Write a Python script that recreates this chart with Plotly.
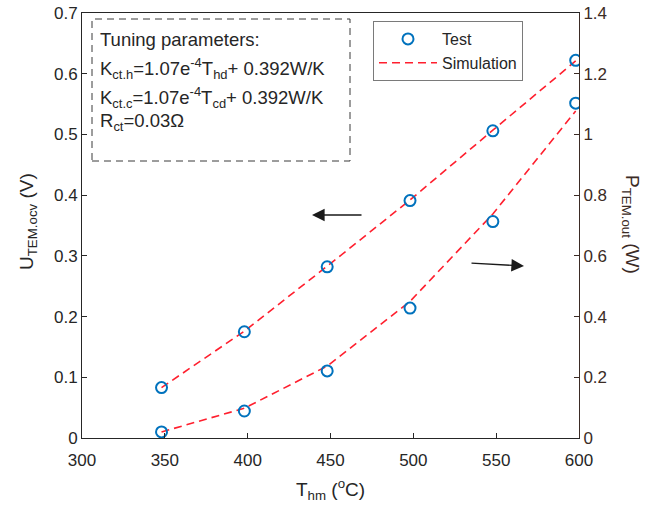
import plotly.graph_objects as go

# Hot-side mean temperature (°C)
temps = [348, 398, 448, 498, 548, 598]

# Open-circuit voltage (V): measured and simulated
u_test = [0.083, 0.175, 0.282, 0.391, 0.506, 0.622]
u_sim = [0.083, 0.176, 0.283, 0.392, 0.507, 0.621]

# Output power (W): measured and simulated
p_test = [0.020, 0.089, 0.221, 0.428, 0.713, 1.103]
p_sim = [0.020, 0.098, 0.237, 0.450, 0.738, 1.077]

x_ticks = [300, 350, 400, 450, 500, 550, 600]
u_ticks = [0, 0.1, 0.2, 0.3, 0.4, 0.5, 0.6, 0.7]
u_tick_text = ["0", "0.1", "0.2", "0.3", "0.4", "0.5", "0.6", "0.7"]
p_ticks = [0, 0.2, 0.4, 0.6, 0.8, 1.0, 1.2, 1.4]
p_tick_text = ["0", "0.2", "0.4", "0.6", "0.8", "1", "1.2", "1.4"]

BLUE = "#0072BD"
RED = "#FF1F2E"
FONT = "Liberation Sans, Arial, sans-serif"
RIGHT_COL = "#3b2b25"

W, H = 662, 505
L, R, T, B = 82, 83, 13, 67
PW, PH = W - L - R, H - T - B


def px(xp):
    return (xp - L) / PW


def py(yp):
    return (T + PH - yp) / PH


fig = go.Figure()

sim_line = dict(color=RED, width=1.6, dash="8px,5px")
test_marker = dict(symbol="circle-open", size=11, color=BLUE, line=dict(width=2, color=BLUE))

fig.add_trace(go.Scatter(x=temps, y=u_sim, mode="lines", line=sim_line,
                         name="Simulation", showlegend=False))
fig.add_trace(go.Scatter(x=temps, y=p_sim, mode="lines", line=sim_line,
                         name="Simulation", yaxis="y2", showlegend=False))
fig.add_trace(go.Scatter(x=temps, y=u_test, mode="markers", marker=test_marker,
                         name="Test", showlegend=True))
fig.add_trace(go.Scatter(x=temps, y=p_test, mode="markers", marker=test_marker,
                         name="Test", yaxis="y2", showlegend=False))
# legend entry for the simulation curves
fig.add_trace(go.Scatter(x=[None], y=[None], mode="lines", line=sim_line,
                         name="Simulation", showlegend=True))

axis_common = dict(showgrid=False, zeroline=False, showline=True, linewidth=1,
                   ticks="inside", ticklen=5, tickwidth=1, automargin=False,
                   tickfont=dict(family=FONT, size=17))

fig.update_layout(
    width=W, height=H,
    margin=dict(l=L, r=R, t=T, b=B, autoexpand=False),
    paper_bgcolor="white", plot_bgcolor="white",
    font=dict(family=FONT, size=17, color="#262626"),
    xaxis=dict(range=[300, 600], tickvals=x_ticks, linecolor="#262626",
               tickcolor="#262626", mirror=True, ticklabelstandoff=7, **axis_common),
    yaxis=dict(range=[0, 0.7], tickvals=u_ticks, ticktext=u_tick_text,
               linecolor="#262626", tickcolor="#262626", **axis_common),
    yaxis2=dict(range=[0, 1.4], tickvals=p_ticks, ticktext=p_tick_text,
                overlaying="y", side="right", linecolor=RIGHT_COL,
                tickcolor=RIGHT_COL, **{**axis_common,
                                         "tickfont": dict(family=FONT, size=17, color=RIGHT_COL)}),
    legend=dict(x=px(373), y=py(21), xanchor="left", yanchor="top",
                bgcolor="white", bordercolor="#7a7a7a", borderwidth=1,
                font=dict(family=FONT, size=16, color="#262626"),
                tracegroupgap=0, itemwidth=58),
    showlegend=True,
)

annotations = [
    dict(text="T<sub>hm</sub> (<sup>o</sup>C)", x=px(330), y=py(489), xref="paper", yref="paper",
         xanchor="center", yanchor="middle",
         showarrow=False, font=dict(size=19, family=FONT, color="#262626")),
    dict(text="U<sub>TEM.ocv</sub> (V)", x=px(28), y=py(222), xref="paper", yref="paper",
         xanchor="center", yanchor="middle",
         showarrow=False, textangle=-90, font=dict(size=19, family=FONT, color="#262626")),
    dict(text="P<sub>TEM.out</sub> (W)", x=px(631), y=py(224), xref="paper", yref="paper",
         xanchor="center", yanchor="middle",
         showarrow=False, textangle=90, font=dict(size=19, family=FONT, color=RIGHT_COL)),
]

# parameter box text
box_lines = [
    ("Tuning parameters:", 40),
    ("K<sub>ct.h</sub>=1.07e<sup>-4</sup>T<sub>hd</sub>+ 0.392W/K", 68),
    ("K<sub>ct.c</sub>=1.07e<sup>-4</sup>T<sub>cd</sub>+ 0.392W/K", 97),
    ("R<sub>ct</sub>=0.03Ω", 122),
]
for txt, yp in box_lines:
    annotations.append(dict(text=txt, x=px(98), y=py(yp), xref="paper", yref="paper",
                            xanchor="left", yanchor="middle", showarrow=False, align="left",
                            font=dict(size=18.5, family=FONT, color="#262626")))

# direction arrows pointing to the relevant axis (tail offsets in pixels)
annotations.append(dict(x=px(312), y=py(215), ax=51, ay=0,
                        xref="paper", yref="paper",
                        text="", showarrow=True, arrowhead=2, arrowsize=1.8,
                        arrowwidth=1.4, arrowcolor="#1a1a1a"))
annotations.append(dict(x=px(524), y=py(266), ax=-54, ay=-3,
                        xref="paper", yref="paper",
                        text="", showarrow=True, arrowhead=2, arrowsize=1.8,
                        arrowwidth=1.4, arrowcolor="#1a1a1a"))

fig.update_layout(annotations=annotations)

fig.add_shape(type="rect", xref="paper", yref="paper",
              x0=px(92), x1=px(350), y0=py(161), y1=py(19),
              line=dict(color="#3a3a3a", width=1, dash="7px,5px"), fillcolor="rgba(0,0,0,0)")

fig.write_html("out.html")
